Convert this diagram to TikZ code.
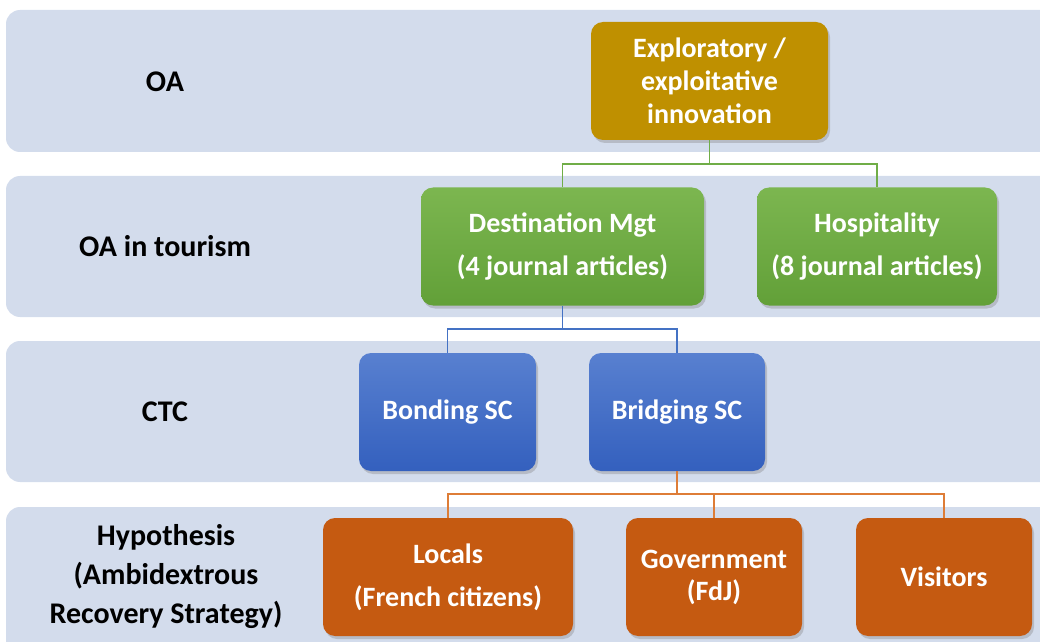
\documentclass[tikz,border=0pt]{standalone}
\usepackage{fontspec}
\setmainfont{Carlito}
\usetikzlibrary{shadows}
\definecolor{bandgray}{RGB}{211,220,236}
\definecolor{goldfill}{RGB}{191,144,0}
\definecolor{greentop}{RGB}{124,182,80}
\definecolor{greenbot}{RGB}{98,160,56}
\definecolor{bluetop}{RGB}{88,128,208}
\definecolor{bluebot}{RGB}{52,96,190}
\definecolor{orangefill}{RGB}{197,90,17}
\definecolor{greenline}{RGB}{112,173,71}
\definecolor{blueline}{RGB}{68,114,196}
\definecolor{orangeline}{RGB}{222,125,55}

\begin{document}
\begin{tikzpicture}[
    x = 0.5pt,
    y = -0.5pt,
    font = \bfseries\fontsize{14}{17}\selectfont,
    band/.style = {fill = bandgray, rounded corners = 7pt},
    level/.style = {align = center, font = \bfseries\fontsize{15}{19.5}\selectfont},
    box/.style = {rounded corners = 6pt, align = center, text = white,
      inner sep = 0pt, minimum height = 59pt,
      drop shadow = {opacity = 0.35, shadow xshift = 1pt, shadow yshift = -1.5pt}},
    goldbox/.style = {box, fill = goldfill},
    greenbox/.style = {box, top color = greentop, bottom color = greenbot},
    bluebox/.style = {box, top color = bluetop, bottom color = bluebot},
    orangebox/.style = {box, fill = orangefill},
    link/.style = {line width = 0.65pt}
  ]
    \useasboundingbox (0,0) rectangle (1040,642);
    \clip (0,0) rectangle (1040,642);
    % bands
    \fill[band] (6,10) rectangle (1070,152);
    \fill[band] (6,176) rectangle (1070,317);
    \fill[band] (6,341) rectangle (1070,482);
    \fill[band] (6,507) rectangle (1070,670);
    % level labels
    \node[level] (oa) at (165,82) {OA};
    \node[level] (oa_tourism) at (165,246) {OA in tourism};
    \node[level] (ctc) at (165,412) {CTC};
    \node[level] (hypothesis) at (166,577) {Hypothesis\\(Ambidextrous\\Recovery Strategy)};
    % boxes
    \node[goldbox, minimum width = 118.5pt, font = \bfseries\fontsize{14}{16.5}\selectfont] (exploratory) at (709.5,81) {Exploratory /\\exploitative\\innovation};
    \node[greenbox, minimum width = 141.5pt] (destination) at (562.5,246.5) {Destination Mgt\\[4.5pt](4 journal articles)};
    \node[greenbox, minimum width = 120pt] (hospitality) at (877,246.5) {Hospitality\\[4.5pt](8 journal articles)};
    \node[bluebox, minimum width = 88.5pt] (bonding) at (447.5,412) {Bonding SC};
    \node[bluebox, minimum width = 88pt] (bridging) at (677,412) {Bridging SC};
    \node[orangebox, minimum width = 125pt] (locals) at (448,577) {Locals\\[4.5pt](French citizens)};
    \node[orangebox, minimum width = 88pt] (government) at (714,577) {Government\\[-1pt](FdJ)};
    \node[orangebox, minimum width = 88pt] (visitors) at (944,577) {Visitors};
    % connectors
    \coordinate (green_join) at (709.5,164);
    \coordinate (blue_join) at (562.5,329);
    \coordinate (orange_join) at (677,494);
    \draw[link, greenline] (exploratory.south) -- (green_join);
    \draw[link, greenline] (destination.north) |- (green_join) -| (hospitality.north);
    \draw[link, blueline] (destination.south) -- (blue_join);
    \draw[link, blueline] (bonding.north) |- (blue_join) -| (bridging.north);
    \draw[link, orangeline] (bridging.south) -- (orange_join);
    \draw[link, orangeline] (locals.north) |- (orange_join) -| (visitors.north);
    \draw[link, orangeline] (government.north) |- (orange_join);
  \end{tikzpicture}
\end{document}
